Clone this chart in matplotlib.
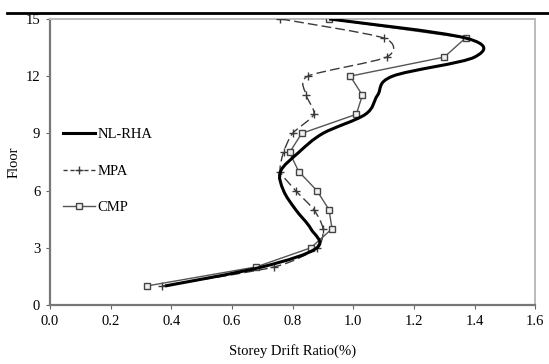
import matplotlib
matplotlib.use("Agg")
import matplotlib.pyplot as plt
from matplotlib.path import Path
from matplotlib.patches import PathPatch
from matplotlib.lines import Line2D

plt.rcParams['font.family'] = ['Liberation Serif', 'DejaVu Serif']

floors = list(range(1, 16))
# storey drift ratio (%) per floor
nl_rha = [0.38, 0.70, 0.88, 0.86, 0.81, 0.77, 0.76, 0.82, 0.90, 1.04, 1.08, 1.13, 1.40, 1.37, 0.92]
mpa = [0.37, 0.74, 0.88, 0.90, 0.87, 0.81, 0.76, 0.77, 0.80, 0.87, 0.845, 0.85, 1.11, 1.10, 0.76]
cmp_ = [0.32, 0.68, 0.86, 0.93, 0.92, 0.88, 0.82, 0.79, 0.83, 1.01, 1.03, 0.99, 1.30, 1.37, 0.92]

x_ticks = [0.0, 0.2, 0.4, 0.6, 0.8, 1.0, 1.2, 1.4, 1.6]
y_ticks = [0, 3, 6, 9, 12, 15]


def smooth_path(xs, ys, k=6.0):
    # spreadsheet-style smoothed line: cubic bezier through every point
    pts = list(zip(xs, ys))
    n = len(pts)
    verts = [pts[0]]
    codes = [Path.MOVETO]
    for i in range(n - 1):
        p0 = pts[max(i - 1, 0)]
        p1 = pts[i]
        p2 = pts[i + 1]
        p3 = pts[min(i + 2, n - 1)]
        c1 = (p1[0] + (p2[0] - p0[0]) / k, p1[1] + (p2[1] - p0[1]) / k)
        c2 = (p2[0] - (p3[0] - p1[0]) / k, p2[1] - (p3[1] - p1[1]) / k)
        verts += [c1, c2, p2]
        codes += [Path.CURVE4] * 3
    return Path(verts, codes)


fig = plt.figure(figsize=(5.49, 3.64), dpi=100)
ax = fig.add_axes([0.091, 0.162, 0.884, 0.786])

ax.add_patch(PathPatch(smooth_path(nl_rha, floors), facecolor='none',
                       edgecolor='black', lw=2.2, zorder=4))
ax.add_patch(PathPatch(smooth_path(mpa, floors, k=8.0), facecolor='none',
                       edgecolor='#3a3a3a', lw=1.0, ls=(0, (7, 3)), zorder=3))
ax.plot(mpa, floors, ls='none', marker='+', ms=6, mew=1.0, color='#3a3a3a', zorder=3)
ax.plot(cmp_, floors, color='#555555', lw=1.0, marker='s', ms=4.2,
        mfc='#f0f0f0', mec='#444444', mew=1.0, zorder=3)

handles = [
    Line2D([], [], color='black', lw=2.2),
    Line2D([], [], color='#3a3a3a', lw=1.0, ls=(0, (3, 2)), marker='+', ms=6),
    Line2D([], [], color='#555555', lw=1.0, marker='s', ms=4.2, mfc='#f0f0f0', mec='#444444'),
]
ax.legend(handles, ['NL-RHA', 'MPA', 'CMP'], loc='upper left',
          bbox_to_anchor=(0.0, 0.665), frameon=False, fontsize=10.5,
          handlelength=2.2, handletextpad=0.15, labelspacing=1.6)

ax.set_xlim(0, 1.6)
ax.set_ylim(0, 15)
ax.set_xticks(x_ticks)
ax.set_xticklabels([f'{v:.1f}' for v in x_ticks])
ax.set_yticks(y_ticks)
ax.tick_params(labelsize=10.5, length=3, width=0.8, color='#666666', pad=4)
ax.set_xlabel('Storey Drift Ratio(%)', fontsize=10.5)
ax.set_ylabel('Floor', fontsize=10.5)
ax.xaxis.set_label_coords(0.5, -0.135)
ax.yaxis.set_label_coords(-0.06, 0.5)

for side in ['left', 'bottom']:
    ax.spines[side].set_color('#777777')
    ax.spines[side].set_linewidth(1.6)
for side in ['top', 'right']:
    ax.spines[side].set_color('#bbbbbb')
    ax.spines[side].set_linewidth(1.4)

# heavy rule across the top of the figure
fig.add_artist(Line2D([0.013, 1.0], [0.964, 0.964], color='black', lw=2.0))

fig.savefig('out.png', dpi=100)
